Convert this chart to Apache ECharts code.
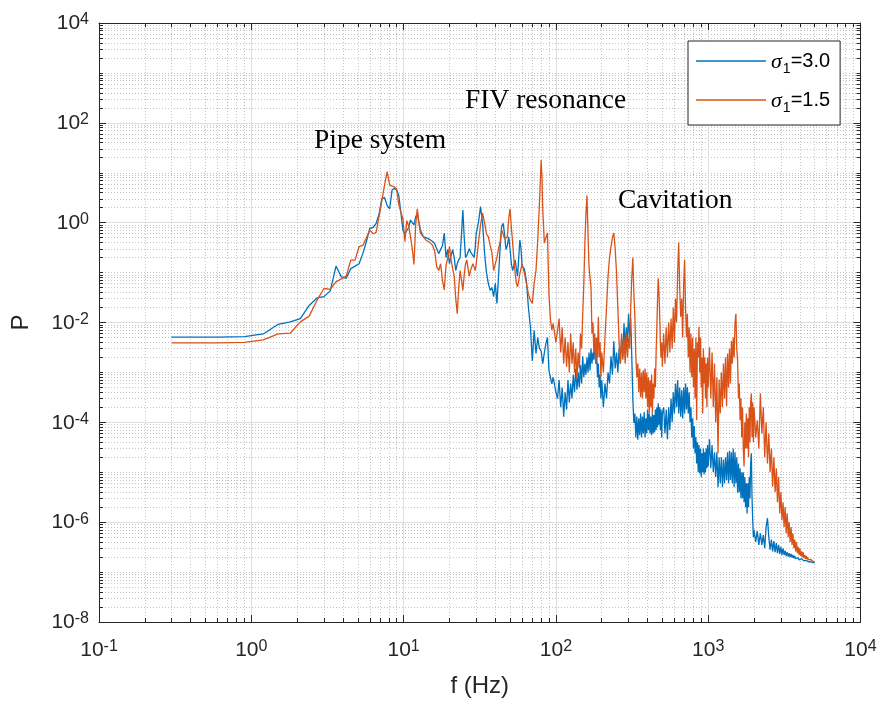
<!DOCTYPE html>
<html><head><meta charset="utf-8">
<script src="https://cdn.jsdelivr.net/npm/echarts@6/dist/echarts.min.js"></script>
<style>html,body{margin:0;padding:0;background:#fff}#c{width:882px;height:709px}</style>
</head><body><div id="c"></div>
<script>
// Frequencies (Hz), shared by both series
const freq = [
0.3,0.6,0.9,1.2,1.5,1.8,2.1,2.4,2.7,3.0,3.3,3.6,3.9,4.2,4.5,4.8,5.1,5.4,5.7,6.0,6.3,6.6,6.9,7.2,7.5,7.8,8.1,8.4,8.7,9.0,9.3,9.6,9.9,10.2,10.5,10.8,11.1,11.4,11.7,12.0,12.3,12.6,12.9,13.2,13.5,
14,14.5,15,15.5,16,16.5,17,17.5,18,18.5,19,19.5,20,20.5,21,21.5,22,22.5,23,23.5,24,24.5,25,25.5,26,26.5,27,27.5,28,28.5,29,29.5,30,
31,32,33,34,35,36,37,38,39,40,41,42,43,44,45,46,47,48,49,50,51,52,53,54,55,56,57,58,59,60,
62,64,66,68,70,72,74,76,78,80,81,82,84,86,88,90,92,94,96,98,100,
102.5,105,107.5,110,112.5,115,117.5,120,122.5,125,127.5,130,132.5,135,137.5,140,142.5,145,147.5,150,152.5,155,157.5,160,162.5,165,167.5,170,172.5,175,177.5,180,182.5,185,187.5,190,192.5,195,197.5,200,
205,210,215,220,225,230,235,240,245,250,255,260,265,270,275,280,285,290,295,300,305,310,315,320,325,330,335,340,345,350,355,360,365,370,375,380,385,390,395,400,405,410,415,420,425,430,435,440,445,450,455,460,465,470,475,480,485,490,495,500,
510,520,530,540,550,560,570,580,590,600,610,620,630,640,650,660,670,680,690,700,710,720,730,740,750,760,770,780,790,800,810,820,830,840,850,860,870,880,890,900,910,920,930,940,950,960,970,980,990,1000,
1020,1040,1060,1080,1100,1120,1140,1160,1180,1200,1220,1240,1260,1280,1300,1320,1340,1360,1380,1400,1420,1440,1460,1480,1500,1520,1540,1560,1580,1600,1620,1640,1660,1680,1700,1720,1740,1760,1780,1800,1820,1840,1860,1880,1900,1920,1940,1960,1980,2000,
2050,2100,2150,2200,2250,2300,2350,2400,2450,2500,2550,2600,2650,2700,2750,2800,2850,2900,2950,3000,3050,3100,3150,3200,3250,3300,3350,3400,3450,3500,3550,3600,3650,3700,3750,3800,3850,3900,3950,4000,4050,4100,4150,4200,4250,4300,4350,4400,4450,4500,4550,4600,4650,4700,4750,4800,4850,4900,4950,5000
];
// P for sigma1 = 3.0 (blue)
const pSigma30 = [
5.1e-3,5.1e-3,5.2e-3,5.9e-3,9.2e-3,1.03e-2,1.2e-2,2.2e-2,3.1e-2,3.3e-2,4.3e-2,0.135,8.2e-2,7.7e-2,0.12,0.135,0.15,0.24,0.42,0.77,0.8,0.97,1.5,3.0,3.2,2.2,1.9,4.5,4.9,4.5,3.5,1.6,0.7,0.6,0.56,0.8,1.13,1.0,0.9,1.3,1.55,1.0,0.72,0.6,0.52,
0.5,0.48,0.45,0.42,0.38,0.3,0.24,0.24,0.35,0.62,0.2,0.29,0.15,0.22,0.29,0.2,0.11,0.15,0.18,0.2,0.6,1.8,0.5,0.2,0.22,0.24,0.3,0.26,0.26,0.22,0.2,0.3,0.62,
1.0,2.1,1.0,0.25,0.1,0.061,0.044,0.05,0.033,0.061,0.024,0.085,0.3,0.84,0.97,0.6,0.29,0.35,0.52,0.3,0.15,0.11,0.14,0.18,0.12,0.085,0.2,0.45,0.3,0.13,
0.12,0.07,0.02,8.2e-3,1.7e-3,7e-3,2.4e-3,5e-3,3e-3,2.7e-3,2e-3,1.5e-3,2.5e-3,3.8e-3,5e-3,1.1e-3,8e-4,5.9e-4,8e-4,8.2e-4,4e-4,
3e-4,7e-4,2e-4,5e-4,1.3e-4,4e-4,1.8e-4,7e-4,2.5e-4,6e-4,
3e-4,9e-4,4e-4,1.2e-3,4.5e-4,1e-3,5e-4,1.4e-3,6e-4,2.1e-3,
8e-4,1.5e-3,9e-4,2e-3,1e-3,2.5e-3,1.1e-3,3e-3,1.5e-3,2.5e-3,
1.8e-3,5e-3,1.5e-3,2.5e-3,8e-4,1.5e-3,5e-4,9e-4,3e-4,7e-4,
2e-4,6e-4,3e-4,1e-3,6e-4,2.1e-3,9e-4,4.2e-3,1.2e-3,2.5e-3,
1e-3,3e-3,1.5e-3,5e-3,2e-3,9.6e-3,3e-3,8e-3,4e-3,1.5e-2,
5e-3,1.2e-2,2e-3,3e-4,9.7e-5,1.5e-4,5e-5,1.3e-4,4.5e-5,1.2e-4,
5.5e-5,1.5e-4,5e-5,1.3e-4,6e-5,1.6e-4,5e-5,1.2e-4,6e-5,1.8e-4,
7e-5,1.5e-4,6e-5,1.3e-4,5.5e-5,1.5e-4,6e-5,1.4e-4,6.3e-5,1.8e-4,
7e-5,2e-4,8e-5,2.4e-4,9e-5,2e-4,7e-5,1.8e-4,5e-5,1.5e-4,
2e-4,6e-5,1.8e-4,4.6e-5,2e-4,7e-5,3e-4,1e-4,4e-4,1.5e-4,
5.9e-4,2e-4,7e-4,1.5e-4,5e-4,1.3e-4,4.4e-4,1.2e-4,5e-4,1.5e-4,
6e-4,1.8e-4,5.1e-4,1.5e-4,4e-4,1e-4,2e-4,5e-5,1.2e-4,3e-5,
8.4e-5,2.4e-5,5e-5,1.5e-5,4e-5,1e-5,3.5e-5,9.5e-6,3e-5,8e-6,
2.4e-5,1e-5,3e-5,9e-6,2.5e-5,1e-5,3e-5,1.2e-5,3.5e-5,1.3e-5,
4.6e-5,1.2e-5,3.5e-5,1e-5,2.5e-5,8e-6,2.5e-5,5e-6,2e-5,6e-6,
2e-5,5e-6,1.8e-5,6e-6,2e-5,7e-6,2.5e-5,6e-6,2.7e-5,7e-6,
2.5e-5,6e-6,3e-5,5e-6,2.5e-5,6e-6,2e-5,3.9e-6,1.5e-5,4e-6,
1.2e-5,3e-6,1e-5,3e-6,1e-5,2.5e-6,8e-6,2e-6,6e-6,1.5e-6,
6e-6,2e-6,8e-6,3e-6,1.5e-5,2.4e-5,3e-6,1.1e-6,5e-7,7e-7,
4e-7,6.6e-7,3.5e-7,6e-7,3.5e-7,5.5e-7,3e-7,8e-7,1.2e-6,5e-7,
2.8e-7,4.5e-7,2.6e-7,4.2e-7,2.5e-7,3.8e-7,2.4e-7,3.5e-7,2.3e-7,3.2e-7,
2.2e-7,3e-7,2.2e-7,2.7e-7,2.1e-7,2.5e-7,2.05e-7,2.4e-7,2e-7,2.3e-7,
1.95e-7,2.2e-7,1.9e-7,2.1e-7,1.85e-7,2e-7,1.8e-7,1.95e-7,1.75e-7,1.9e-7,
1.72e-7,1.85e-7,1.7e-7,1.8e-7,1.68e-7,1.75e-7,1.65e-7,1.72e-7,1.62e-7,1.7e-7,
1.6e-7,1.66e-7,1.58e-7,1.63e-7,1.56e-7,1.6e-7,1.54e-7,1.57e-7,1.52e-7,1.55e-7
];
// P for sigma1 = 1.5 (orange)
const pSigma15 = [
3.9e-3,3.9e-3,4.0e-3,4.5e-3,5.9e-3,6.1e-3,1.03e-2,1.34e-2,2.8e-2,4.8e-2,4.6e-2,6.5e-2,7.5e-2,8.5e-2,0.178,0.178,0.33,0.35,0.5,0.71,0.6,0.64,1.34,2.8,5.7,10.5,5.7,5.4,5.2,4.8,2.3,1.6,1.2,0.42,1.1,0.85,0.52,0.3,0.145,0.9,1.9,1.0,0.62,0.58,0.52,
0.45,0.42,0.39,0.35,0.27,0.13,0.11,0.15,0.07,0.045,0.14,0.2,0.33,0.18,0.12,0.085,0.03,0.015,0.05,0.11,0.07,0.044,0.09,0.15,0.18,0.12,0.085,0.11,0.13,0.15,0.13,0.11,0.15,
0.4,0.9,1.55,1.0,0.6,0.52,0.35,0.25,0.11,0.15,0.2,0.3,0.4,0.72,0.6,0.48,0.5,0.52,1.2,1.9,0.8,0.4,0.18,0.1,0.061,0.052,0.07,0.095,0.12,0.15,
0.1,0.061,0.037,0.028,0.024,0.061,0.11,0.45,2.5,18,8,1.8,0.39,0.5,0.62,0.037,0.012,7e-3,9.6e-3,9e-3,4e-3,
4e-3,1.2e-2,2.5e-3,8e-3,1.5e-3,5e-3,1.3e-3,4e-3,1e-3,6e-3,
1.5e-3,4e-3,1e-3,3e-3,7.2e-4,2.5e-3,1.2e-3,6e-3,3e-3,1.5e-2,
0.06,0.4,1.5,3.5,0.6,0.13,0.08,0.05,6e-3,1e-2,
2.5e-3,6e-3,1.5e-3,5e-3,2e-3,0.013,2e-3,4e-3,8e-4,2.5e-3,
1e-3,5e-3,0.02,0.085,0.2,0.33,0.5,0.62,0.3,0.1,
0.02,4e-3,1.5e-3,6e-3,1.8e-3,5e-3,1.5e-3,6e-3,2e-3,5e-3,
3e-3,0.02,0.08,0.2,0.04,0.013,2e-3,8e-4,1.5e-3,4e-4,
1.2e-3,3.2e-4,1e-3,3e-4,1.1e-3,4e-4,1.2e-3,3e-4,1e-3,2e-4,
8e-4,1.5e-4,7e-4,2e-4,9e-4,1.5e-4,6e-4,3e-4,1.2e-3,5e-4,
2.5e-3,8e-3,0.03,0.077,0.04,0.015,4e-3,2e-3,4e-3,1.3e-3,
6e-3,1.5e-3,8e-3,2e-3,1e-2,2.5e-3,1.2e-2,3e-3,2e-2,4e-3,
0.03,0.01,0.1,0.4,0.05,0.013,0.03,5e-3,0.06,0.18,
0.02,5e-3,0.015,2e-3,8e-3,1e-3,6e-3,8e-4,5e-3,5e-4,
3e-3,3e-4,5e-3,1.1e-4,4e-3,2e-3,8.2e-3,1e-3,5e-3,5e-4,
2e-3,1.5e-4,3e-3,6e-4,2e-3,3e-4,1.5e-3,2e-4,2e-3,5e-4,
3.2e-3,3e-4,2.5e-3,2e-4,1.5e-3,1e-4,8e-4,2.4e-5,7.2e-4,1.5e-4,
1e-3,2e-4,1.5e-3,3e-4,2e-3,2.1e-4,2.4e-3,5e-4,3e-3,6e-4,
4.3e-3,1.5e-3,5e-3,2e-3,0.01,0.015,3e-3,1.7e-3,3e-4,6e-4,
1.1e-4,3e-4,5e-5,2e-4,3e-5,1.3e-5,1e-4,3e-5,1.5e-4,3e-5,
1.2e-4,2e-5,2e-4,4e-5,2.5e-4,3.8e-4,5e-5,2.5e-4,4e-5,2e-4,
5e-5,1.1e-4,3e-5,3.8e-4,6e-5,2e-4,2e-5,1e-4,1.5e-5,6e-5,
1e-5,3e-5,5.2e-6,2e-5,4e-6,1.2e-5,2.5e-6,8e-6,1.5e-6,4e-6,
1.1e-6,2.5e-6,8e-7,2e-6,6e-7,1.5e-6,5e-7,1e-6,4e-7,8e-7,
3.5e-7,6e-7,3e-7,4.5e-7,2.6e-7,4e-7,2.4e-7,3.2e-7,2.2e-7,3e-7,
2.1e-7,2.6e-7,2e-7,2.5e-7,1.9e-7,2.2e-7,1.85e-7,2.1e-7,1.8e-7,2e-7,
1.75e-7,1.9e-7,1.7e-7,1.8e-7,1.68e-7,1.75e-7,1.65e-7,1.7e-7,1.62e-7,1.6e-7
];
const seriesNames = ['σ1=3.0', 'σ1=1.5'];
const seriesColors = ['#0072BD', '#D95319'];
const xMajorTicks = [0.1, 1, 10, 100, 1000, 10000];
const yMajorTicks = [1e-8, 1e-6, 1e-4, 1e-2, 1, 1e2, 1e4];
const annotationTexts = ['Pipe system', 'FIV resonance', 'Cavitation'];
const xTitle = 'f (Hz)';
const yTitle = 'P';

// minor tick positions (2..9 within each decade; for y also the odd decades)
const xMinorTicks = [];
for (let d = -1; d <= 3; d++) for (let k = 2; k <= 9; k++) xMinorTicks.push(+(k + 'e' + d));
const yMinorTicks = [];
for (let d = -8; d <= 3; d++) {
  if (d % 2 !== 0) yMinorTicks.push(+('1e' + d));
  for (let k = 2; k <= 9; k++) yMinorTicks.push(+(k + 'e' + d));
}

const DARK = '#262626';
const GW = 761.5, GH = 599;
const labelRich = {
  b: {fontFamily: 'Liberation Sans', fontSize: 21, color: DARK, lineHeight: 22, verticalAlign: 'bottom'},
  s: {fontFamily: 'Liberation Sans', fontSize: 16, color: DARK, lineHeight: 16, verticalAlign: 'top', padding: [0, 0, 10, 0]}
};
const expFmt = v => '{b|10}{s|' + Math.round(Math.log10(v)) + '}';

function ax(base, extra) {
  return Object.assign({
    gridIndex: 0, type: 'log', logBase: 10,
    axisLine: {show: false}, axisTick: {show: false}, axisLabel: {show: false},
    splitLine: {show: false}, minorTick: {show: false}, minorSplitLine: {show: false},
    silent: true, z: 5
  }, base, extra);
}
const xb = {min: 0.1, max: 10000};
const yb = {min: 1e-8, max: 1e4};
const tickLS = {color: DARK, width: 1};

const xAxes = [
  ax(xb, {position: 'bottom', z: 0, axisTick: {show: true, inside: true, length: GH, customValues: xMajorTicks, lineStyle: {color: '#dedede', width: 1}}}),
  ax(xb, {position: 'bottom', z: 0, axisTick: {show: true, inside: true, length: GH, customValues: xMinorTicks, lineStyle: {color: '#c4c4c4', width: 1, type: [1, 2]}}}),
  ax(xb, {position: 'bottom', axisLine: {show: true, onZero: false, lineStyle: {color: DARK, width: 1}},
    axisTick: {show: true, inside: true, length: 7, customValues: xMajorTicks, lineStyle: tickLS},
    axisLabel: {show: true, customValues: xMajorTicks, formatter: expFmt, rich: labelRich, margin: 17},
    name: xTitle, nameLocation: 'middle', nameGap: 52,
    nameTextStyle: {fontFamily: 'Liberation Sans', fontSize: 24, color: DARK}}),
  ax(xb, {position: 'bottom', axisTick: {show: true, inside: true, length: 4, customValues: xMinorTicks, lineStyle: tickLS}}),
  ax(xb, {position: 'top', axisLine: {show: true, onZero: false, lineStyle: {color: DARK, width: 1}},
    axisTick: {show: true, inside: true, length: 7, customValues: xMajorTicks, lineStyle: tickLS}}),
  ax(xb, {position: 'top', axisTick: {show: true, inside: true, length: 4, customValues: xMinorTicks, lineStyle: tickLS}})
];
const yAxes = [
  ax(yb, {position: 'left', z: 0, axisTick: {show: true, inside: true, length: GW, customValues: yMajorTicks, lineStyle: {color: '#dedede', width: 1}}}),
  ax(yb, {position: 'left', z: 0, axisTick: {show: true, inside: true, length: GW, customValues: yMinorTicks, lineStyle: {color: '#c4c4c4', width: 1, type: [1, 2]}}}),
  ax(yb, {position: 'left', axisLine: {show: true, onZero: false, lineStyle: {color: DARK, width: 1}},
    axisTick: {show: true, inside: true, length: 7, customValues: yMajorTicks, lineStyle: tickLS},
    axisLabel: {show: true, customValues: yMajorTicks, formatter: expFmt, rich: labelRich, margin: 10},
    name: yTitle, nameLocation: 'middle', nameGap: 66,
    nameTextStyle: {fontFamily: 'Liberation Sans', fontSize: 24, color: DARK}}),
  ax(yb, {position: 'left', axisTick: {show: true, inside: true, length: 4, customValues: yMinorTicks, lineStyle: tickLS}}),
  ax(yb, {position: 'right', axisLine: {show: true, onZero: false, lineStyle: {color: DARK, width: 1}},
    axisTick: {show: true, inside: true, length: 7, customValues: yMajorTicks, lineStyle: tickLS}}),
  ax(yb, {position: 'right', axisTick: {show: true, inside: true, length: 4, customValues: yMinorTicks, lineStyle: tickLS}})
];

const series = [pSigma30, pSigma15].map((vals, si) => ({
  type: 'line', name: seriesNames[si], xAxisIndex: 2, yAxisIndex: 2,
  data: freq.map((f, i) => [f, vals[i]]),
  symbol: 'none', showSymbol: false, clip: true, z: 2 + si,
  lineStyle: {color: seriesColors[si], width: 1.3},
  itemStyle: {color: seriesColors[si]}
}));

const annoStyle = {fontFamily: 'Liberation Serif', fontSize: 27.5, fill: '#000', verticalAlign: 'middle', align: 'left'};
const annoPos = [[314, 141], [465, 101], [618, 201]];

const chart = echarts.init(document.getElementById('c'), null, {renderer: 'canvas'});
chart.setOption({
  animation: false,
  backgroundColor: '#fff',
  grid: {left: 99, top: 23, width: GW, height: GH, containLabel: false, outerBoundsMode: 'none'},
  xAxis: xAxes,
  yAxis: yAxes,
  legend: {
    show: true, orient: 'vertical', left: 688, top: 41,
    padding: [10, 10, 10, 8], itemGap: 14, itemWidth: 70, itemHeight: 1.3, icon: 'rect',
    backgroundColor: '#fff', borderColor: DARK, borderWidth: 1, borderRadius: 0,
    data: seriesNames,
    formatter: n => '{g|σ}{d|' + n.charAt(1) + '}{t|' + n.slice(2) + '}',
    textStyle: {
      fontFamily: 'Liberation Sans', fontSize: 20, color: '#000',
      rich: {
        g: {fontFamily: 'Liberation Serif', fontStyle: 'italic', fontSize: 22, color: '#000', lineHeight: 20, verticalAlign: 'top', padding: [0, 1, 0, 0]},
        d: {fontFamily: 'Liberation Sans', fontSize: 14, color: '#000', lineHeight: 14, verticalAlign: 'top', padding: [11, 0, 0, 0]},
        t: {fontFamily: 'Liberation Sans', fontSize: 20, color: '#000', lineHeight: 20, verticalAlign: 'top'}
      }
    }
  },
  graphic: annotationTexts.map((t, i) => ({
    type: 'text', x: annoPos[i][0], y: annoPos[i][1], silent: true, z: 10,
    style: Object.assign({text: t}, annoStyle)
  })),
  series: series
});
</script>
</body></html>
